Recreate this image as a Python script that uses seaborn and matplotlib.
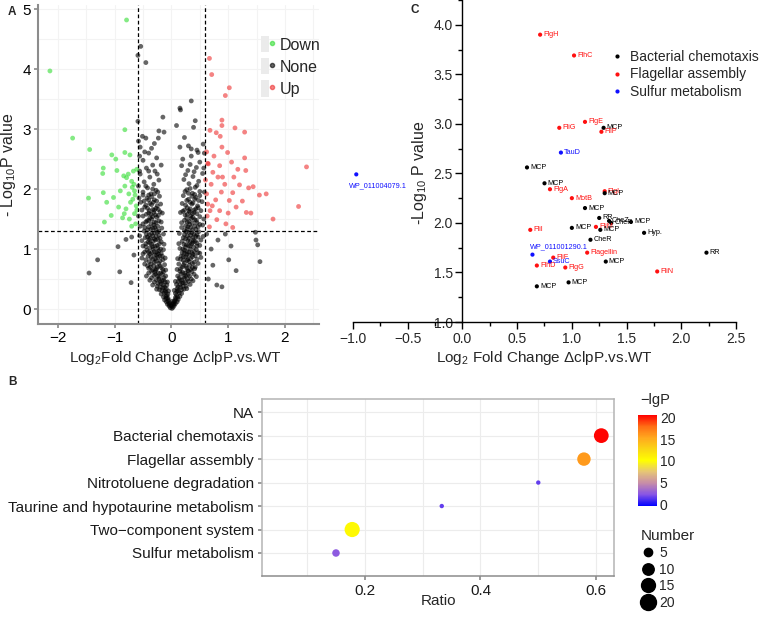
import numpy as np
import pandas as pd
import matplotlib
matplotlib.use('Agg')
import matplotlib.pyplot as plt
import seaborn as sns
from matplotlib.colors import LinearSegmentedColormap, Normalize
from matplotlib.cm import ScalarMappable
from matplotlib.lines import Line2D
from matplotlib.patches import Rectangle
from matplotlib.legend_handler import HandlerTuple
from matplotlib.ticker import MultipleLocator, StrMethodFormatter

# ---------------- data ----------------
# A: volcano plot (log2 fold change, -log10 p)
down_pts = [(-0.79, 4.82), (-2.14, 3.97), (-1.74, 2.85), (-0.82, 2.99), (-1.44, 2.66), (-1.05, 2.57),
            (-0.98, 2.50), (-0.82, 2.61), (-0.73, 2.57), (-1.20, 2.35), (-1.21, 2.26), (-0.84, 2.22),
            (-0.79, 2.19), (-0.76, 2.25), (-0.70, 2.13), (-0.67, 2.30), (-0.61, 2.33), (-0.96, 2.31),
            (-1.46, 1.85), (-1.20, 1.94), (-1.14, 1.78), (-1.02, 1.86), (-0.90, 1.97), (-0.82, 2.05),
            (-0.69, 2.03), (-0.65, 1.97), (-0.68, 1.83), (-0.62, 1.72), (-1.18, 1.45), (-0.83, 1.59),
            (-0.80, 1.67), (-0.65, 1.59), (-1.06, 1.56), (-0.93, 1.70), (-0.74, 1.50), (-0.64, 1.90),
            (-0.72, 1.78), (-0.86, 1.52), (-0.61, 1.65), (-0.66, 2.08), (-0.75, 1.92), (-0.63, 1.42),
            (-0.70, 1.38)]
up_pts = [(0.67, 4.18), (0.71, 3.91), (1.02, 3.69), (0.95, 3.56), (0.89, 3.15), (1.12, 3.02),
          (0.89, 3.06), (1.29, 2.95), (0.68, 2.98), (0.79, 2.94), (0.86, 2.88), (0.89, 2.70),
          (0.99, 2.61), (1.29, 2.52), (0.64, 2.43), (0.85, 2.39), (1.06, 2.45), (0.73, 2.28),
          (1.17, 2.33), (1.31, 2.31), (2.38, 2.37), (0.94, 2.08), (0.65, 2.42), (0.70, 2.08),
          (1.20, 2.07), (1.36, 2.02), (1.44, 2.04), (1.55, 1.90), (1.67, 1.92), (2.24, 1.71),
          (1.79, 1.50), (1.32, 1.61), (0.85, 1.64), (0.68, 1.64), (0.62, 1.92), (1.02, 1.81),
          (1.08, 1.94), (1.14, 1.70), (0.80, 1.49), (0.96, 1.42), (1.08, 1.36), (0.67, 1.37),
          (0.62, 2.62), (0.75, 2.55), (0.90, 2.20), (1.00, 1.60), (0.78, 1.82), (0.63, 1.55),
          (1.25, 1.80), (0.88, 1.95), (1.10, 2.20), (0.72, 1.72), (1.40, 1.60), (0.60, 2.15),
          (0.64, 1.75), (0.82, 2.20)]
none_pts = [(-0.02, 0.02), (0.01, 0.01), (0.03, 0.03), (-0.04, 0.05), (0.05, 0.06), (-0.07, 0.08),
            (0.07, 0.09), (-0.09, 0.12), (0.10, 0.12), (-0.12, 0.15), (0.12, 0.16), (-0.03, 0.10),
            (0.02, 0.13), (-0.14, 0.20), (0.15, 0.21), (-0.06, 0.18), (0.07, 0.19), (-0.18, 0.25),
            (0.18, 0.26), (-0.10, 0.28), (0.10, 0.30), (-0.21, 0.32), (0.22, 0.33),
            (-0.25, 0.38), (-0.12, 0.36), (-0.18, 0.42), (-0.30, 0.45), (-0.08, 0.40), (-0.22, 0.50),
            (-0.35, 0.52), (-0.14, 0.48), (-0.28, 0.58), (-0.10, 0.55), (-0.19, 0.60), (-0.40, 0.60),
            (0.26, 0.38), (0.12, 0.37), (0.19, 0.43), (0.30, 0.46), (0.09, 0.41), (0.23, 0.51),
            (0.35, 0.50), (0.15, 0.49), (0.29, 0.57), (0.11, 0.55), (0.20, 0.61), (0.40, 0.58),
            (-0.33, 0.65), (-0.15, 0.66), (-0.25, 0.70), (-0.42, 0.72), (-0.12, 0.74), (-0.30, 0.78),
            (-0.20, 0.80), (-0.45, 0.82), (-0.36, 0.86), (-0.16, 0.88), (-0.26, 0.90), (-0.50, 0.92),
            (-0.40, 0.95), (-0.22, 0.97), (-0.32, 1.00), (-0.14, 0.99),
            (0.34, 0.66), (0.16, 0.67), (0.26, 0.71), (0.42, 0.70), (0.13, 0.75), (0.31, 0.79),
            (0.21, 0.81), (0.45, 0.83), (0.37, 0.87), (0.17, 0.88), (0.27, 0.91), (0.50, 0.93),
            (0.40, 0.96), (0.23, 0.98), (0.33, 1.00), (0.15, 1.01),
            (-0.45, 1.04), (-0.25, 1.06), (-0.38, 1.10), (-0.18, 1.12), (-0.52, 1.14), (-0.30, 1.17),
            (-0.42, 1.20), (-0.22, 1.23), (-0.35, 1.26), (-0.48, 1.30), (-0.27, 1.32), (-0.17, 1.35),
            (-0.40, 1.37), (-0.31, 1.40), (-0.55, 1.38),
            (0.45, 1.05), (0.26, 1.07), (0.38, 1.11), (0.19, 1.13), (0.52, 1.15), (0.31, 1.18),
            (0.43, 1.21), (0.23, 1.24), (0.36, 1.27), (0.48, 1.29), (0.28, 1.33), (0.18, 1.36),
            (0.41, 1.38), (0.32, 1.41), (0.55, 1.40),
            (-0.45, 1.45), (-0.22, 1.47), (-0.35, 1.50), (-0.50, 1.55), (-0.28, 1.57), (-0.40, 1.60),
            (-0.20, 1.62), (-0.33, 1.66), (-0.47, 1.70), (-0.25, 1.72), (-0.38, 1.76), (-0.54, 1.78),
            (-0.30, 1.82), (-0.43, 1.85), (-0.21, 1.88),
            (0.45, 1.44), (0.23, 1.48), (0.35, 1.51), (0.50, 1.54), (0.28, 1.58), (0.40, 1.61),
            (0.20, 1.63), (0.33, 1.67), (0.47, 1.69), (0.25, 1.73), (0.38, 1.77), (0.54, 1.79),
            (0.30, 1.83), (0.43, 1.86), (0.21, 1.89),
            (-0.36, 1.92), (-0.50, 1.95), (-0.27, 1.98), (-0.42, 2.02), (-0.31, 2.08), (-0.48, 2.12),
            (-0.22, 2.15), (-0.38, 2.20), (-0.55, 2.25), (-0.29, 2.30), (-0.44, 2.35), (-0.33, 2.40),
            (0.37, 1.93), (0.50, 1.96), (0.27, 1.99), (0.42, 2.03), (0.31, 2.09), (0.48, 2.13),
            (0.22, 2.16), (0.38, 2.21), (0.55, 2.26), (0.29, 2.31), (0.44, 2.36), (0.33, 2.41),
            (-0.50, 2.48), (-0.26, 2.52), (-0.40, 2.60), (-0.55, 2.70), (-0.30, 2.76), (-0.45, 2.85),
            (-0.22, 2.97), (-0.13, 2.95), (-0.51, 2.88), (-0.58, 2.80),
            (0.20, 2.50), (0.35, 2.55), (0.50, 2.45), (0.15, 2.70), (0.30, 2.72), (0.45, 2.65),
            (0.09, 3.06), (0.39, 3.03), (0.42, 3.14), (0.15, 3.35), (0.16, 3.32), (0.35, 3.47),
            (-0.15, 3.20), (-0.59, 3.13), (-0.54, 4.38), (-0.45, 4.11), (-0.59, 4.23),
            (-1.45, 0.60), (-1.30, 0.82), (-0.94, 1.04), (-0.80, 1.16), (-0.91, 0.62), (-0.71, 0.44),
            (-0.66, 0.90), (-0.70, 1.20), (1.48, 1.28), (1.49, 1.15), (1.52, 1.07), (1.56, 0.79),
            (1.01, 0.82), (0.82, 1.15), (1.14, 0.64), (1.05, 1.05), (0.89, 0.37), (0.73, 0.73),
            (0.65, 0.50), (0.70, 1.00), (0.62, 1.25), (0.95, 1.25), (0.80, 0.40),
            (-0.05, 0.15), (-0.08, 0.22), (-0.11, 0.30), (-0.15, 0.35), (-0.20, 0.45), (-0.24, 0.55),
            (-0.16, 0.58), (-0.28, 0.65), (-0.20, 0.72), (-0.36, 0.75), (-0.28, 0.84), (-0.18, 0.93),
            (-0.38, 0.92), (-0.30, 0.96), (-0.24, 1.02), (-0.35, 1.08), (-0.28, 1.15), (-0.20, 1.18),
            (-0.33, 1.22), (-0.44, 1.25), (-0.25, 1.28), (-0.36, 1.33), (-0.30, 1.45), (-0.40, 1.48),
            (-0.26, 1.53), (-0.36, 1.58), (-0.30, 1.65), (-0.42, 1.68), (-0.35, 1.74), (-0.26, 1.80),
            (-0.40, 1.90),
            (0.06, 0.14), (0.09, 0.23), (0.12, 0.30), (0.16, 0.36), (0.21, 0.44), (0.25, 0.56),
            (0.17, 0.59), (0.29, 0.64), (0.21, 0.73), (0.37, 0.76), (0.29, 0.83), (0.19, 0.94),
            (0.38, 0.91), (0.31, 0.95), (0.25, 1.03), (0.36, 1.09), (0.29, 1.14), (0.21, 1.19),
            (0.34, 1.23), (0.45, 1.24), (0.26, 1.29), (0.37, 1.32), (0.31, 1.46), (0.41, 1.49),
            (0.27, 1.52), (0.37, 1.59), (0.31, 1.64), (0.43, 1.67), (0.36, 1.75), (0.27, 1.81),
            (0.41, 1.91),
            (-0.58, 1.55), (-0.57, 1.85), (-0.58, 2.05), (-0.56, 2.30), (0.57, 1.50), (0.58, 1.95),
            (0.57, 2.35), (0.58, 2.60), (-0.56, 2.55), (0.56, 2.75),
            # dense core of the V
            (-0.06, 0.25), (-0.13, 0.27), (-0.17, 0.31), (-0.09, 0.34), (-0.20, 0.37), (-0.14, 0.40),
            (-0.24, 0.43), (-0.11, 0.45), (-0.17, 0.47), (-0.27, 0.49), (-0.21, 0.53), (-0.13, 0.52),
            (-0.31, 0.56), (-0.23, 0.60), (-0.14, 0.62), (-0.35, 0.63), (-0.26, 0.67), (-0.18, 0.69),
            (-0.31, 0.72), (-0.22, 0.76), (-0.39, 0.79), (-0.27, 0.80), (-0.15, 0.82), (-0.33, 0.83),
            (-0.24, 0.86), (-0.41, 0.88), (-0.30, 0.90), (-0.20, 0.88),
            (-0.35, 0.94), (-0.26, 0.95), (-0.43, 0.98), (-0.19, 1.00), (-0.38, 1.02), (-0.29, 1.05),
            (-0.21, 1.09), (-0.41, 1.12), (-0.32, 1.13), (-0.24, 1.16), (-0.37, 1.18), (-0.46, 1.19),
            (-0.27, 1.21), (-0.39, 1.24), (-0.30, 1.27), (-0.22, 1.30),
            (-0.42, 1.32), (-0.33, 1.35), (-0.24, 1.38), (-0.36, 1.42), (-0.27, 1.44), (-0.43, 1.47),
            (-0.33, 1.54), (-0.23, 1.56), (-0.44, 1.58), (-0.31, 1.61), (-0.39, 1.64), (-0.27, 1.68),
            (-0.45, 1.73), (-0.32, 1.78), (-0.40, 1.82), (-0.35, 1.87),
            (0.07, 0.26), (0.14, 0.27), (0.18, 0.32), (0.10, 0.34), (0.21, 0.38), (0.15, 0.41),
            (0.25, 0.44), (0.12, 0.46), (0.18, 0.48), (0.28, 0.50), (0.22, 0.54), (0.14, 0.52),
            (0.32, 0.55), (0.24, 0.60), (0.15, 0.63), (0.36, 0.62), (0.27, 0.68), (0.19, 0.70),
            (0.32, 0.73), (0.23, 0.77), (0.40, 0.78), (0.28, 0.81), (0.16, 0.83), (0.34, 0.84),
            (0.25, 0.87), (0.42, 0.89), (0.31, 0.90), (0.21, 0.87),
            (0.36, 0.94), (0.27, 0.96), (0.44, 0.99), (0.20, 1.00), (0.39, 1.03), (0.30, 1.06),
            (0.22, 1.08), (0.42, 1.13), (0.33, 1.12), (0.25, 1.17), (0.38, 1.19), (0.47, 1.20),
            (0.28, 1.22), (0.40, 1.25), (0.31, 1.28), (0.23, 1.31),
            (0.43, 1.33), (0.34, 1.36), (0.25, 1.39), (0.37, 1.43), (0.28, 1.45), (0.44, 1.48),
            (0.34, 1.55), (0.24, 1.57), (0.45, 1.59), (0.32, 1.62), (0.40, 1.65), (0.28, 1.69),
            (0.46, 1.72), (0.33, 1.78), (0.41, 1.83), (0.36, 1.88),
            (-0.04, 0.08), (0.04, 0.08), (-0.06, 0.13), (0.05, 0.12), (-0.09, 0.18), (0.08, 0.17),
            (-0.10, 0.21), (0.11, 0.20), (0.00, 0.05), (-0.01, 0.07), (0.02, 0.09),
            # wider spread of the arms
            (-0.33, 0.40), (-0.26, 0.33), (-0.38, 0.48), (-0.05, 0.30), (-0.07, 0.45), (-0.44, 0.55),
            (-0.40, 0.68), (-0.47, 0.75), (-0.10, 0.65), (-0.11, 0.85), (-0.52, 0.85), (-0.47, 0.95),
            (-0.13, 1.08), (-0.50, 1.05), (-0.56, 1.22), (-0.14, 1.25), (-0.50, 1.42), (-0.18, 1.45),
            (-0.16, 1.60), (-0.52, 1.65), (-0.19, 1.75), (-0.50, 1.90), (-0.24, 1.95), (-0.33, 2.00),
            (-0.45, 2.05), (-0.25, 2.25), (-0.40, 2.30), (-0.18, 2.40), (-0.47, 2.62), (-0.35, 2.68),
            (-0.23, 2.85), (-0.29, 0.62), (-0.37, 0.70), (-0.23, 0.92), (-0.33, 1.04), (-0.45, 1.09),
            (-0.39, 1.16), (-0.29, 1.36), (-0.47, 1.36), (-0.38, 1.52), (-0.23, 1.66), (-0.48, 1.80),
            (-0.30, 1.92),
            (0.33, 0.41), (0.27, 0.34), (0.38, 0.47), (0.05, 0.31), (0.07, 0.46), (0.44, 0.54),
            (0.41, 0.67), (0.47, 0.76), (0.10, 0.66), (0.11, 0.84), (0.52, 0.86), (0.47, 0.94),
            (0.13, 1.09), (0.50, 1.06), (0.56, 1.21), (0.14, 1.26), (0.50, 1.41), (0.18, 1.44),
            (0.16, 1.61), (0.52, 1.64), (0.19, 1.76), (0.50, 1.89), (0.24, 1.96), (0.33, 2.01),
            (0.45, 2.06), (0.25, 2.24), (0.40, 2.29), (0.18, 2.39), (0.47, 2.61), (0.35, 2.67),
            (0.23, 2.86), (0.30, 0.63), (0.37, 0.69), (0.23, 0.93), (0.33, 1.05), (0.45, 1.10),
            (0.39, 1.15), (0.29, 1.37), (0.47, 1.37), (0.38, 1.53), (0.23, 1.65), (0.48, 1.81),
            (0.30, 1.93)]

# B: pathway enrichment
pathways = ['NA', 'Bacterial chemotaxis', 'Flagellar assembly', 'Nitrotoluene degradation',
            'Taurine and hypotaurine metabolism', 'Two\u2212component system', 'Sulfur metabolism']
ratio = [np.nan, 0.609, 0.579, 0.500, 0.333, 0.178, 0.150]
neg_lgp = [np.nan, 20.5, 16.0, 1.5, 1.5, 10.5, 2.5]
number = [np.nan, 17, 14, 1, 1, 18, 4]
number_ticks = [5, 10, 15, 20]

# C: labelled genes
genes = ['FlgH', 'FlhC', 'FlgE', 'MCP', 'FliP', 'FliG', 'TauD', 'MCP', 'WP_011004079.1', 'MCP',
         'FlgA', 'FlgI', 'MCP', 'MotB', 'MCP', 'RR', 'CheZ', 'CheR', 'MCP', 'FliM', 'MCP', 'MCP',
         'FliI', 'Hyp.', 'CheR', 'RR', 'WP_011001290.1', 'Flagellin', 'FliF', 'SsuC', 'MCP',
         'FlhD', 'FlgG', 'FliN', 'MCP', 'MCP']
gene_lfc = [0.71, 1.02, 1.12, 1.29, 1.27, 0.885, 0.90, 0.59, -0.97, 0.75,
            0.80, 1.30, 1.30, 1.00, 1.12, 1.25, 1.34, 1.36, 1.54, 1.22, 1.26, 1.00,
            0.62, 1.66, 1.17, 2.23, 0.64, 1.14, 0.83, 0.80, 1.31,
            0.68, 0.94, 1.78, 0.97, 0.68]
gene_nlp = [3.90, 3.69, 3.02, 2.96, 2.92, 2.96, 2.71, 2.56, 2.49, 2.40,
            2.34, 2.32, 2.30, 2.25, 2.15, 2.05, 2.02, 2.00, 2.01, 1.96, 1.93, 1.95,
            1.93, 1.90, 1.83, 1.70, 1.68, 1.70, 1.65, 1.61, 1.61,
            1.57, 1.55, 1.51, 1.40, 1.36]
gene_path = ['F', 'F', 'F', 'B', 'F', 'F', 'S', 'B', 'S', 'B',
             'F', 'F', 'B', 'F', 'B', 'B', 'B', 'B', 'B', 'F', 'B', 'B',
             'F', 'B', 'B', 'B', 'S', 'F', 'F', 'S', 'B',
             'F', 'F', 'F', 'B', 'B']
path_names = {'B': 'Bacterial chemotaxis', 'F': 'Flagellar assembly', 'S': 'Sulfur metabolism'}

# ---------------- style ----------------
sns.set_theme(style='white')
plt.rcParams['font.family'] = ['Liberation Sans', 'DejaVu Sans']
plt.rcParams['mathtext.fontset'] = 'custom'
plt.rcParams['mathtext.rm'] = 'Liberation Sans'
plt.rcParams['mathtext.it'] = 'Liberation Sans:italic'
plt.rcParams['mathtext.bf'] = 'Liberation Sans:bold'

W, H = 760, 617
fig = plt.figure(figsize=(7.6, 6.17), dpi=100)


def box(l, t, r, b):
    return [l / W, 1 - b / H, (r - l) / W, (b - t) / H]


axA = fig.add_axes(box(38, 5, 319, 324))
axC = fig.add_axes(box(353, 0, 736, 322))
axB = fig.add_axes(box(262, 399, 614, 576))
cax = fig.add_axes(box(638, 415, 657, 506))

# ---------------- panel A ----------------
df_a = pd.DataFrame(none_pts + down_pts + up_pts, columns=['lfc', 'nlp'])
df_a['group'] = ['None'] * len(none_pts) + ['Down'] * len(down_pts) + ['Up'] * len(up_pts)
pal_a = {'Down': '#33dd33', 'None': 'black', 'Up': '#ee3030'}
sns.scatterplot(data=df_a, x='lfc', y='nlp', hue='group', palette=pal_a, s=12, alpha=0.6,
                linewidth=0, ax=axA, legend=False)
for v in (-0.585, 0.585):
    axA.axvline(v, color='black', ls=(0, (3, 2)), lw=0.9)
axA.axhline(1.3, color='black', ls=(0, (3, 2)), lw=0.9)
axA.set_xlim(-2.35, 2.6)
axA.set_ylim(-0.25, 5.07)
axA.xaxis.set_major_locator(MultipleLocator(1))
axA.xaxis.set_minor_locator(MultipleLocator(0.5))
axA.yaxis.set_major_locator(MultipleLocator(1))
axA.yaxis.set_minor_locator(MultipleLocator(0.5))
axA.grid(which='both', color='#f3f3f3', lw=0.8)
axA.set_axisbelow(True)
for s in ('top', 'right'):
    axA.spines[s].set_visible(False)
for s in ('left', 'bottom'):
    axA.spines[s].set_color('#8c8c8c')
    axA.spines[s].set_linewidth(1.5)
axA.tick_params(which='major', length=3, color='#8c8c8c', labelsize=11, labelcolor='black',
                left=True, bottom=True, pad=2)
axA.tick_params(which='minor', length=0)
axA.set_xlabel('Log$_2$Fold Change \u0394clpP.vs.WT', fontsize=11)
axA.set_ylabel('- Log$_{10}$P value', fontsize=11.5)
axA.xaxis.set_label_coords(0.49, -0.078)
axA.yaxis.set_label_coords(-0.07, 0.5)

handles_a = [(Rectangle((0, 0), 1, 1, fc='#ebebeb', ec='none'),
              Line2D([], [], ls='', marker='o', ms=3, color=pal_a[g], alpha=0.6))
             for g in ('Down', 'None', 'Up')]
axA.legend(handles_a, ['Down', 'None', 'Up'], handler_map={tuple: HandlerTuple(ndivide=None)},
           loc='upper left', bbox_to_anchor=(0.795, 0.903), frameon=False, fontsize=11.5,
           handlelength=0.9, handleheight=1.2, handletextpad=0.25, labelspacing=0.35,
           borderpad=0, borderaxespad=0)

# ---------------- panel C ----------------
df_c = pd.DataFrame({'lfc': gene_lfc, 'nlp': gene_nlp, 'gene': genes,
                     'pathway': [path_names[p] for p in gene_path]})
pal_c = {'Bacterial chemotaxis': 'black', 'Flagellar assembly': '#ff1010',
         'Sulfur metabolism': '#1010ff'}
sns.scatterplot(data=df_c, x='lfc', y='nlp', hue='pathway', palette=pal_c,
                hue_order=list(pal_c), s=9, linewidth=0, ax=axC)
label_offset = {'WP_011004079.1': (-5, -6, 'top'), 'WP_011001290.1': (-1.5, 3.5, 'bottom')}
for g, x, y, p in zip(df_c['gene'], df_c['lfc'], df_c['nlp'], df_c['pathway']):
    dx, dy, va = label_offset.get(g, (2.2, 0, 'center'))
    axC.annotate(g, (x, y), xytext=(dx, dy), textcoords='offset points', fontsize=5.2,
                 color=pal_c[p], ha='left', va=va)
axC.set_xlim(-1.0, 2.5)
axC.set_ylim(1.0, 4.25)
axC.spines['left'].set_position(('data', 0))
for s in ('top', 'right'):
    axC.spines[s].set_visible(False)
for s in ('left', 'bottom'):
    axC.spines[s].set_color('black')
    axC.spines[s].set_linewidth(1.0)
axC.xaxis.set_major_locator(MultipleLocator(0.5))
axC.xaxis.set_minor_locator(MultipleLocator(0.25))
axC.yaxis.set_major_locator(MultipleLocator(0.5))
axC.yaxis.set_minor_locator(MultipleLocator(0.25))
axC.xaxis.set_major_formatter(StrMethodFormatter('{x:.1f}'))
axC.yaxis.set_major_formatter(StrMethodFormatter('{x:.1f}'))
axC.tick_params(which='major', direction='out', length=5, width=1, color='black',
                labelsize=10, left=True, bottom=True, pad=2)
axC.tick_params(which='minor', direction='out', length=3, width=1, color='black',
                left=True, bottom=True)
axC.set_xlabel('Log$_2$ Fold Change \u0394clpP.vs.WT', fontsize=11)
axC.set_ylabel('-Log$_{10}$ P value', fontsize=11.5)
axC.xaxis.set_label_coords(0.5, -0.084)
axC.yaxis.set_label_coords(0.198, 0.463)
sns.move_legend(axC, 'upper left', bbox_to_anchor=(611 / W, 1 - 50 / H),
                bbox_transform=fig.transFigure, frameon=False, title=None, fontsize=10,
                handlelength=0.8, handletextpad=0.6, labelspacing=0.25, borderpad=0,
                borderaxespad=0, markerscale=1.0)

# ---------------- panel B ----------------
cmap_b = LinearSegmentedColormap.from_list('lgp', [
    (0.0, (0, 0, 1)), (0.125, (0.53, 0.33, 0.9)), (0.25, (0.78, 0.55, 0.66)),
    (0.375, (0.9, 0.77, 0.47)), (0.5, (1, 1, 0)), (0.625, (0.98, 0.84, 0.08)),
    (0.75, (1, 0.66, 0.12)), (0.875, (1, 0.43, 0.08)), (1.0, (1, 0, 0))])
norm_b = Normalize(-0.4, 20.6)
size_lo, size_hi = 10, 132
size_norm = (1, 20)

df_b = pd.DataFrame({'pathway': pathways, 'ratio': ratio, 'lgp': neg_lgp, 'number': number})
axB.yaxis.update_units(np.array(pathways))
sns.scatterplot(data=df_b.dropna(), x='ratio', y='pathway', hue='lgp', palette=cmap_b,
                hue_norm=norm_b, size='number', sizes=(size_lo, size_hi), size_norm=size_norm,
                linewidth=0, legend=False, ax=axB)
axB.set_yticks(range(len(pathways)))
axB.set_yticklabels(pathways)
axB.set_ylim(len(pathways) - 0.02, -0.56)
axB.set_xlim(0.022, 0.631)
axB.set_xticks([0.2, 0.4, 0.6])
axB.xaxis.set_minor_locator(MultipleLocator(0.1))
axB.grid(which='both', color='#ececec', lw=0.8)
axB.set_axisbelow(True)
for s in axB.spines.values():
    s.set_color('#b4b4b4')
    s.set_linewidth(1.1)
axB.spines['bottom'].set_color('#8c8c8c')
axB.tick_params(which='major', length=3, color='#8c8c8c', labelsize=11, labelcolor='#1a1a1a',
                left=True, bottom=True, pad=3)
axB.tick_params(which='minor', length=0)
axB.set_ylabel('')
axB.set_xlabel('Ratio', fontsize=11)
axB.xaxis.set_label_coords(0.5, -0.1)

cb = fig.colorbar(ScalarMappable(norm=norm_b, cmap=cmap_b), cax=cax, ticks=[0, 5, 10, 15, 20])
cb.outline.set_visible(False)
cax.tick_params(length=3, color='white', width=1, direction='in', labelsize=10, pad=2,
                left=True, right=True, labelleft=False, labelright=True)
fig.text(655 / W, 1 - 400 / H, '\u2212lgP', fontsize=10.5, ha='center', va='center')


def marker_area(n):
    return size_lo + (size_hi - size_lo) * (n - size_norm[0]) / (size_norm[1] - size_norm[0])


size_handles = [Line2D([], [], ls='', marker='o', color='black', ms=np.sqrt(marker_area(n)))
                for n in number_ticks]
fig.legend(size_handles, [str(n) for n in number_ticks], title='Number', loc='upper left',
           bbox_to_anchor=(634 / W, 1 - 522 / H), frameon=False, fontsize=10, title_fontsize=11,
           handlelength=1.0, handletextpad=0.3, labelspacing=0.2, borderpad=0, alignment='left')

# panel letters
for letter, x, y in (('A', 8, 12), ('C', 411, 10), ('B', 8, 382)):
    fig.text(x / W, 1 - y / H, letter, fontsize=8.5, weight='bold', ha='left', va='center')

fig.savefig('out.png', dpi=100)
